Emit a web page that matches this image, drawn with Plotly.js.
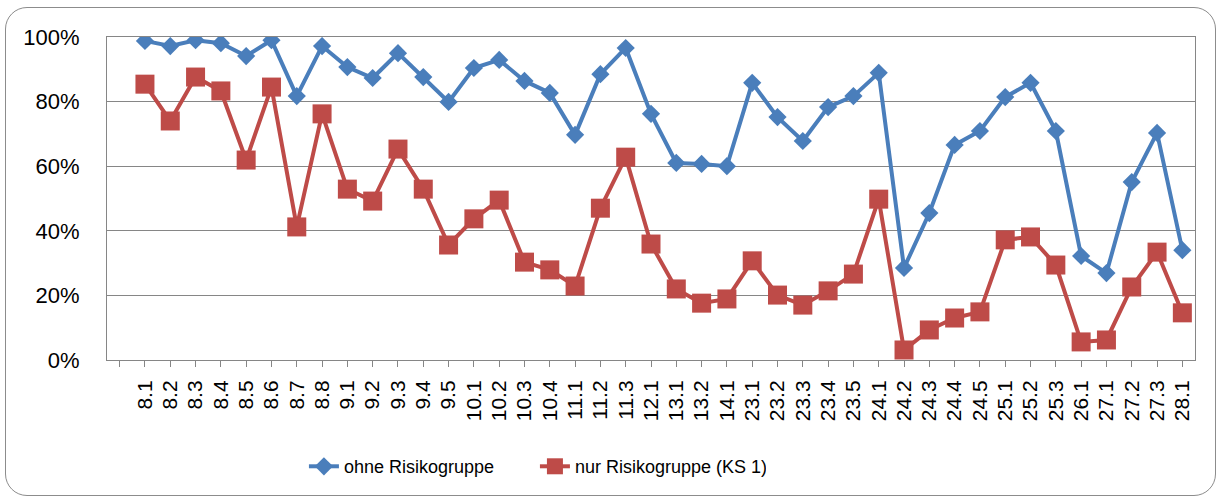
<!DOCTYPE html>
<html>
<head>
<meta charset="utf-8">
<script src="https://cdn.plot.ly/plotly-3.0.1.min.js"></script>
<style>
  html, body { margin: 0; padding: 0; background: #fff; }
  #wrap { position: relative; width: 1218px; height: 502px; }
  #frame { position: absolute; left: 5px; top: 7px; width: 1211px; height: 489px;
           border: 1.5px solid #8c8c8c; border-radius: 22px; box-sizing: border-box; pointer-events: none; }
  #chart { position: absolute; left: 0; top: 0; width: 1218px; height: 502px; }
</style>
</head>
<body>
<div id="wrap">
  <div id="chart"></div>
  <div id="frame"></div>
</div>
<script>
const categories = ["8.1","8.2","8.3","8.4","8.5","8.6","8.7","8.8","9.1","9.2","9.3","9.4","9.5",
  "10.1","10.2","10.3","10.4","11.1","11.2","11.3","12.1","13.1","13.2","14.1",
  "23.1","23.2","23.3","23.4","23.5","24.1","24.2","24.3","24.4","24.5",
  "25.1","25.2","25.3","26.1","27.1","27.2","27.3","28.1"];

const ohneRisikogruppe = [98.8,97.2,99.0,98.1,94.1,99.0,81.7,97.2,90.7,87.3,95.0,87.6,79.9,
  90.4,92.9,86.4,82.7,69.7,88.5,96.6,76.2,61.0,60.7,60.0,
  85.8,75.2,67.8,78.3,81.7,88.9,28.5,45.5,66.6,70.9,
  81.4,85.8,70.9,32.2,26.9,55.1,70.3,34.0];

const nurRisikogruppe = [85.4,74.0,87.6,83.3,61.9,84.5,41.2,76.2,52.9,49.2,65.3,52.9,35.6,
  43.7,49.5,30.3,27.9,22.9,47.0,62.8,35.9,22.0,17.6,18.9,
  30.7,20.1,17.0,21.4,26.6,49.8,3.1,9.3,13.0,14.9,
  37.2,38.1,29.4,5.6,6.2,22.6,33.4,14.6];

const seriesNames = ["ohne Risikogruppe", "nur Risikogruppe (KS 1)"];
const yTicks = [0, 20, 40, 60, 80, 100];
const yTickText = ["0%", "20%", "40%", "60%", "80%", "100%"];

const xIdx = categories.map((_, i) => i);
const tickVals = [-1].concat(xIdx);
const tickText = [""].concat(categories);

const blue = "#4A7EBB";
const red = "#BE4B48";

const traces = [
  { x: xIdx, y: ohneRisikogruppe, name: seriesNames[0], type: "scatter", mode: "lines+markers",
    line: { color: blue, width: 4 },
    marker: { symbol: "diamond", size: 14, color: blue } },
  { x: xIdx, y: nurRisikogruppe, name: seriesNames[1], type: "scatter", mode: "lines+markers",
    line: { color: red, width: 4 },
    marker: { symbol: "square", size: 19, color: red } }
];

const layout = {
  width: 1218, height: 502,
  margin: { l: 107, r: 23, t: 37, b: 142 },
  paper_bgcolor: "rgba(0,0,0,0)",
  plot_bgcolor: "#fff",
  showlegend: true,
  legend: {
    orientation: "h", x: 0.181, xanchor: "left", y: -0.33, yanchor: "middle",
    font: { family: "Liberation Sans, Arial, sans-serif", size: 18, color: "#000" },
    entrywidth: 186, entrywidthmode: "pixels", tracegroupgap: 0
  },
  xaxis: {
    type: "linear", range: [-1.5, 41.5],
    tickmode: "array", tickvals: tickVals, ticktext: tickText,
    tickangle: -90, ticks: "outside", ticklen: 6, tickcolor: "#868686", tickwidth: 1,
    ticklabelstandoff: 5,
    showgrid: false, zeroline: false,
    showline: true, linecolor: "#868686", linewidth: 1, mirror: true,
    tickfont: { family: "Liberation Sans, Arial, sans-serif", size: 21, color: "#000" },
    fixedrange: true
  },
  yaxis: {
    range: [0, 100], tickmode: "array", tickvals: yTicks, ticktext: yTickText,
    showgrid: true, gridcolor: "#868686", gridwidth: 1,
    zeroline: false, showline: true, linecolor: "#868686", linewidth: 1, mirror: true,
    ticks: "", ticklen: 0, ticklabelstandoff: 22,
    tickfont: { family: "Liberation Sans, Arial, sans-serif", size: 22, color: "#000" },
    fixedrange: true
  }
};

Plotly.newPlot("chart", traces, layout, { displayModeBar: false, staticPlot: true });
</script>
</body>
</html>
